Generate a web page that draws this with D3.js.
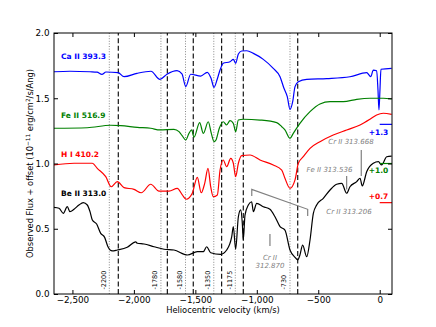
<!DOCTYPE html>
<html>
<head>
<meta charset="utf-8">
<script src="https://cdnjs.cloudflare.com/ajax/libs/d3/7.8.5/d3.min.js"></script>
<style>
  body { margin: 0; background: #fff; }
  text { font-family: "DejaVu Sans", sans-serif; }
</style>
</head>
<body>
<div id="chart"></div>
<script>
// velocity (km/s), flux + offset
var caII = [[-2650,1.703],[-2520,1.707],[-2357,1.703],[-2300,1.700],[-2260,1.683],[-2227,1.701],[-2129,1.696],[-2080,1.665],[-1975,1.691],[-1861,1.707],[-1788,1.645],[-1731,1.684],[-1649,1.711],[-1609,1.686],[-1578,1.589],[-1538,1.684],[-1456,1.670],[-1403,1.699],[-1373,1.655],[-1348,1.584],[-1324,1.640],[-1299,1.716],[-1273,1.768],[-1218,1.780],[-1191,1.798],[-1172,1.768],[-1150,1.839],[-1123,1.862],[-1082,1.864],[-1028,1.844],[-947,1.798],[-866,1.729],[-811,1.665],[-779,1.576],[-752,1.512],[-730,1.415],[-708,1.474],[-689,1.589],[-662,1.627],[-594,1.645],[-431,1.651],[-242,1.665],[-106,1.696],[-73,1.665],[-52,1.716],[-25,1.711],[-14,1.563],[-6,1.410],[2,1.563],[10,1.722],[97,1.729]];

var feII = [[-2650,1.270],[-2379,1.274],[-2189,1.293],[-2107,1.290],[-1972,1.277],[-1863,1.270],[-1788,1.257],[-1674,1.262],[-1633,1.244],[-1606,1.211],[-1578,1.180],[-1552,1.231],[-1530,1.257],[-1511,1.201],[-1465,1.313],[-1435,1.231],[-1395,1.320],[-1370,1.231],[-1348,1.167],[-1332,1.180],[-1305,1.270],[-1273,1.320],[-1245,1.295],[-1218,1.328],[-1191,1.308],[-1172,1.244],[-1150,1.333],[-1110,1.339],[-974,1.333],[-838,1.313],[-797,1.282],[-771,1.257],[-730,1.193],[-703,1.231],[-649,1.308],[-567,1.397],[-486,1.456],[-404,1.474],[-296,1.474],[-187,1.492],[-79,1.500],[29,1.500],[97,1.494]];

var hI = [[-2650,0.989],[-2487,1.002],[-2338,1.002],[-2298,0.963],[-2229,0.899],[-2184,0.822],[-2135,0.861],[-2080,0.815],[-1999,0.802],[-1940,0.776],[-1863,0.841],[-1796,0.789],[-1714,0.789],[-1647,0.810],[-1606,0.759],[-1574,0.726],[-1525,0.772],[-1484,0.894],[-1452,0.776],[-1424,0.848],[-1397,0.963],[-1375,0.822],[-1354,0.746],[-1321,0.759],[-1299,0.950],[-1273,1.027],[-1245,0.975],[-1212,1.040],[-1191,1.002],[-1172,0.899],[-1150,1.002],[-1123,1.061],[-1055,1.065],[-974,1.027],[-866,0.989],[-797,0.950],[-771,0.887],[-730,0.810],[-689,0.874],[-662,1.002],[-622,1.052],[-567,1.116],[-486,1.167],[-378,1.218],[-269,1.257],[-160,1.295],[-79,1.339],[-25,1.372],[29,1.385],[97,1.377]];

var beII = [[-2650,0.664],[-2609,0.657],[-2574,0.618],[-2542,0.669],[-2520,0.631],[-2487,0.649],[-2447,0.682],[-2412,0.700],[-2379,0.682],[-2357,0.631],[-2338,0.567],[-2303,0.536],[-2270,0.465],[-2238,0.434],[-2211,0.362],[-2176,0.330],[-2135,0.337],[-2054,0.358],[-1985,0.400],[-1972,0.389],[-1918,0.383],[-1836,0.362],[-1755,0.343],[-1674,0.337],[-1565,0.299],[-1484,0.324],[-1435,0.324],[-1408,0.362],[-1375,0.316],[-1294,0.304],[-1245,0.337],[-1204,0.439],[-1191,0.516],[-1172,0.343],[-1150,0.592],[-1131,0.644],[-1118,0.542],[-1110,0.414],[-1096,0.605],[-1069,0.682],[-1042,0.707],[-1028,0.631],[-1001,0.695],[-947,0.669],[-893,0.649],[-852,0.592],[-811,0.516],[-771,0.490],[-730,0.337],[-689,0.281],[-667,0.261],[-649,0.299],[-627,0.375],[-594,0.286],[-567,0.414],[-540,0.618],[-513,0.682],[-459,0.733],[-404,0.797],[-350,0.841],[-309,0.848],[-269,0.772],[-242,0.822],[-187,0.861],[-160,0.887],[-142,0.828],[-106,0.937],[-52,1.002],[-11,1.014],[16,0.989],[57,1.052],[97,1.057]];

var seriesNames = ["Ca II 393.3", "Fe II 516.9", "H I 410.2", "Be II 313.0"];
var seriesColors = ["#0000ff", "#008000", "#ff0000", "#000000"];
var nameLevels = [1.80, 1.35, 1.05, 0.75];

var offsets = [1.3, 1.0, 0.7];
var offsetLabels = ["+1.3", "+1.0", "+0.7"];
var offsetTextLevels = [1.222, 0.925, 0.73];

var vDotted = [-2200, -1780, -1580, -1350, -1175, -730];
var vDashed = [-2127, -1728, -1517, -1286, -1110, -667];

var xTicks = [-2500, -2000, -1500, -1000, -500, 0];
var yTicks = [0, 0.5, 1.0, 1.5, 2.0];

var width = 436, height = 327;
var margin = {top: 33, right: 44, bottom: 33, left: 54};

var x = d3.scaleLinear().domain([-2650, 100]).range([margin.left, width - margin.right]);
var y = d3.scaleLinear().domain([0, 2]).range([height - margin.bottom, margin.top]);

var svg = d3.select("#chart")
  .append("svg")
  .attr("width", width)
  .attr("height", height);

svg.append("clipPath").attr("id", "clip")
  .append("rect")
  .attr("x", margin.left).attr("y", margin.top)
  .attr("width", width - margin.left - margin.right)
  .attr("height", height - margin.top - margin.bottom);

var plot = svg.append("g").attr("clip-path", "url(#clip)");

// velocity markers
plot.selectAll(".dotted").data(vDotted).enter().append("line")
  .attr("x1", d => x(d)).attr("x2", d => x(d))
  .attr("y1", y(0)).attr("y2", y(2))
  .attr("stroke", "#888").attr("stroke-width", 1)
  .attr("stroke-dasharray", "1,1.6");

plot.selectAll(".dashed").data(vDashed).enter().append("line")
  .attr("x1", d => x(d)).attr("x2", d => x(d))
  .attr("y1", y(0)).attr("y2", y(2))
  .attr("stroke", "#000").attr("stroke-width", 1.1)
  .attr("stroke-dasharray", "5,2.6");

svg.selectAll(".vlabel").data(vDotted).enter().append("text")
  .attr("transform", d => "translate(" + (x(d) - 3.5) + "," + (y(0) - 4.5) + ") rotate(-90)")
  .attr("font-size", 6.5)
  .text(d => String(d));

var line = d3.line()
  .x(d => x(d[0]))
  .y(d => y(d[1]))
  .curve(d3.curveMonotoneX);

[caII, feII, hI, beII].forEach(function(s, i) {
  plot.append("path")
    .datum(s)
    .attr("d", line)
    .attr("fill", "none")
    .attr("stroke", seriesColors[i])
    .attr("stroke-width", 1.2);
});

// line names
seriesNames.forEach(function(n, i) {
  svg.append("text")
    .attr("x", x(-2593)).attr("y", y(nameLevels[i]))
    .attr("font-size", 7.5).attr("font-weight", "bold")
    .attr("fill", seriesColors[i])
    .text(n);
});

// zero levels of the offset spectra
offsets.forEach(function(o, i) {
  plot.append("line")
    .attr("x1", x(0)).attr("x2", x(100))
    .attr("y1", y(o)).attr("y2", y(o))
    .attr("stroke", seriesColors[i]).attr("stroke-width", 1.2);
  svg.append("text")
    .attr("x", x(-10)).attr("y", y(offsetTextLevels[i]))
    .attr("text-anchor", "middle")
    .attr("font-size", 7.5).attr("font-weight", "bold")
    .attr("fill", seriesColors[i])
    .text(offsetLabels[i]);
});

// Cr II / Fe II identifications
var gray = "#808080";
var marks = [
  [[-150, 1.103], [-150, 0.904]],
  [[-269, 0.905], [-269, 0.80]],
  [[-893, 0.46], [-893, 0.368]],
  [[-1041, 0.751], [-1041, 0.802], [-586, 0.649], [-586, 0.598]]
];
marks.forEach(function(m) {
  svg.append("path")
    .attr("d", d3.line().x(d => x(d[0])).y(d => y(d[1]))(m))
    .attr("fill", "none").attr("stroke", gray).attr("stroke-width", 1.2);
});

var notes = [
  ["Cr II 313.668", -234, 1.149],
  ["Fe II 313.536", -409, 0.937],
  ["Cr II 313.206", -250, 0.613],
  ["Cr II", -893, 0.257],
  ["312.870", -893, 0.203]
];
notes.forEach(function(n) {
  svg.append("text")
    .attr("x", x(n[1])).attr("y", y(n[2]))
    .attr("text-anchor", "middle")
    .attr("font-size", 7).attr("font-style", "italic")
    .attr("fill", gray)
    .text(n[0]);
});

// axes, ticks pointing in
var fmtY = d3.format(".1f");
svg.append("g")
  .attr("transform", "translate(0," + y(0) + ")")
  .call(d3.axisBottom(x).tickValues(xTicks).tickSize(-4).tickPadding(3));
svg.append("g")
  .attr("transform", "translate(0," + y(2) + ")")
  .call(d3.axisTop(x).tickValues(xTicks).tickSize(-4).tickFormat(""));
svg.append("g")
  .attr("transform", "translate(" + x(-2650) + ",0)")
  .call(d3.axisLeft(y).tickValues(yTicks).tickSize(-4).tickPadding(4.5).tickFormat(fmtY));
svg.append("g")
  .attr("transform", "translate(" + x(100) + ",0)")
  .call(d3.axisRight(y).tickValues(yTicks).tickSize(-4).tickFormat(""));

svg.selectAll(".domain").remove();
svg.selectAll(".tick line").attr("stroke", "#000");
svg.selectAll(".tick text")
  .attr("font-family", "DejaVu Sans")
  .attr("font-size", 8.8)
  .attr("fill", "#000");

svg.append("rect")
  .attr("x", x(-2650)).attr("y", y(2))
  .attr("width", x(100) - x(-2650))
  .attr("height", y(0) - y(2))
  .attr("fill", "none").attr("stroke", "#000").attr("stroke-width", 1);

svg.append("text")
  .attr("x", (x(-2650) + x(100)) / 2).attr("y", 313)
  .attr("text-anchor", "middle").attr("font-size", 8.3)
  .text("Heliocentric velocity (km/s)");

var yl = svg.append("text")
  .attr("transform", "translate(33," + (y(0) + y(2)) / 2 + ") rotate(-90)")
  .attr("text-anchor", "middle").attr("font-size", 8.3);
yl.append("tspan").text("Observed Flux + offset (10");
yl.append("tspan").attr("dy", -3).attr("font-size", 5.8).text("\u221211");
yl.append("tspan").attr("dy", 3).text(" erg/cm");
yl.append("tspan").attr("dy", -3).attr("font-size", 5.8).text("2");
yl.append("tspan").attr("dy", 3).text("/s/Ang)");
</script>
</body>
</html>
